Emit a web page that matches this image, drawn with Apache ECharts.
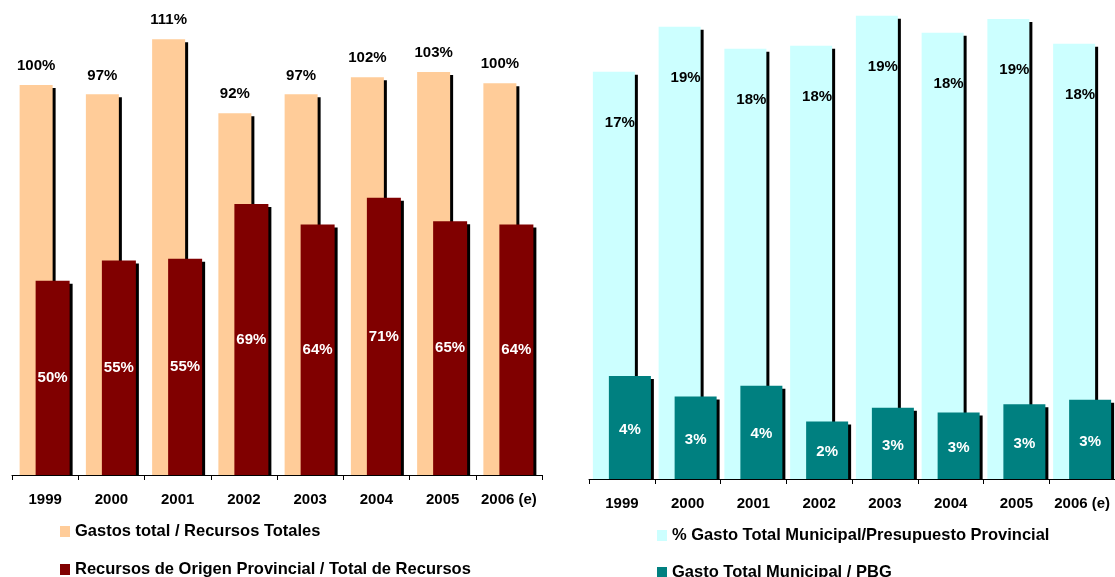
<!DOCTYPE html>
<html>
<head>
<meta charset="utf-8">
<script src="https://cdn.jsdelivr.net/npm/echarts@6/dist/echarts.min.js"></script>
<style>
html,body{margin:0;padding:0;background:#fff;}
#chart{width:1115px;height:577px;}
</style>
</head>
<body>
<div id="chart"></div>
<script>
// ---- data ----
const categories = ['1999', '2000', '2001', '2002', '2003', '2004', '2005', '2006 (e)'];
const gastosRecursos = [99.6, 97.2, 111.3, 92.4, 97.2, 101.6, 102.9, 100.05];
const recursosProvinciales = [49.6, 54.8, 55.25, 69.2, 64.0, 70.8, 64.8, 64.0];
const gastoPresupuesto = [16.75, 18.60, 17.70, 17.82, 19.05, 18.35, 18.92, 17.90];
const gastoPBG = [4.24, 3.39, 3.84, 2.36, 2.93, 2.74, 3.07, 3.26];

const names = {
  a: 'Gastos total / Recursos Totales',
  b: 'Recursos de Origen Provincial / Total de Recursos',
  c: '% Gasto Total Municipal/Presupuesto Provincial',
  d: 'Gasto Total Municipal / PBG'
};

const FONT = '"Liberation Sans", Arial, sans-serif';

function pairs(arr) { return arr.map((v, i) => [i, v]); }

function barRenderer(cfg) {
  return function (params, api) {
    const idx = api.value(0);
    const v = api.value(1);
    const base = api.coord([idx, 0]);
    const top = api.coord([idx, v]);
    const cx = base[0] + cfg.offset;
    const x = cx - cfg.width / 2;
    const h = base[1] - top[1];
    let lx, ly;
    if (cfg.label === 'above') { lx = cx; ly = top[1] - 19; }
    else if (cfg.label === 'middle') { lx = cx; ly = (top[1] + base[1]) / 2 + cfg.dy; }
    else { lx = base[0] + cfg.lx; ly = top[1] + cfg.ly; }
    return {
      type: 'group',
      children: [
        { type: 'rect', shape: { x: x + 3, y: top[1] + 3, width: cfg.width, height: h - 3 }, style: { fill: '#000' } },
        { type: 'rect', shape: { x: x, y: top[1], width: cfg.width, height: h }, style: { fill: cfg.color } },
        { type: 'text', z2: 10, style: {
            text: Math.round(v) + '%', x: lx, y: ly, align: 'center', verticalAlign: 'middle',
            fill: cfg.textColor, font: 'bold 15px ' + FONT } }
      ]
    };
  };
}

const axisCommon = {
  type: 'category',
  data: categories,
  axisLine: { lineStyle: { color: '#000', width: 1 } },
  axisTick: { show: true, length: 5, interval: 0, lineStyle: { color: '#000' } },
  axisLabel: { interval: 0, color: '#000', fontSize: 15, fontWeight: 'bold', fontFamily: FONT, margin: 17 }
};

function legendItem(name, left, top) {
  return {
    data: [name], orient: 'horizontal', left: left, top: top,
    icon: 'rect', itemWidth: 10, itemHeight: 11, padding: 0,
    textStyle: { color: '#000', fontSize: 16.5, fontWeight: 'bold', fontFamily: FONT }
  };
}

const chart = echarts.init(document.getElementById('chart'));
chart.setOption({
  animation: false,
  backgroundColor: '#fff',
  grid: [
    { left: 12, top: 0, width: 530, height: 475 },
    { left: 589, top: 0, width: 530, height: 479 }
  ],
  xAxis: [
    Object.assign({ gridIndex: 0 }, axisCommon),
    Object.assign({ gridIndex: 1 }, axisCommon)
  ],
  yAxis: [
    { gridIndex: 0, type: 'value', min: 0, max: 121.3, show: false, splitLine: { show: false } },
    { gridIndex: 1, type: 'value', min: 0, max: 19.7, show: false, splitLine: { show: false } }
  ],
  legend: [
    legendItem(names.a, 60, 523),
    legendItem(names.b, 60, 561),
    legendItem(names.c, 657, 527),
    legendItem(names.d, 657, 564)
  ],
  series: [
    {
      name: names.a, type: 'custom', xAxisIndex: 0, yAxisIndex: 0,
      itemStyle: { color: '#FFCC99' }, encode: { x: 0, y: 1 },
      data: pairs(gastosRecursos),
      renderItem: barRenderer({ offset: -9, width: 33, color: '#FFCC99', label: 'above', textColor: '#000' })
    },
    {
      name: names.b, type: 'custom', xAxisIndex: 0, yAxisIndex: 0,
      itemStyle: { color: '#800000' }, encode: { x: 0, y: 1 },
      data: pairs(recursosProvinciales),
      renderItem: barRenderer({ offset: 7.5, width: 34, color: '#800000', label: 'middle', dy: 0, textColor: '#fff' })
    },
    {
      name: names.c, type: 'custom', xAxisIndex: 1, yAxisIndex: 1,
      itemStyle: { color: '#CCFFFF' }, encode: { x: 0, y: 1 },
      data: pairs(gastoPresupuesto),
      renderItem: barRenderer({ offset: -8, width: 42, color: '#CCFFFF', label: 'inside', lx: -2, ly: 51, textColor: '#000' })
    },
    {
      name: names.d, type: 'custom', xAxisIndex: 1, yAxisIndex: 1,
      itemStyle: { color: '#008080' }, encode: { x: 0, y: 1 },
      data: pairs(gastoPBG),
      renderItem: barRenderer({ offset: 8, width: 42, color: '#008080', label: 'middle', dy: 2, textColor: '#fff' })
    }
  ]
});
</script>
</body>
</html>
